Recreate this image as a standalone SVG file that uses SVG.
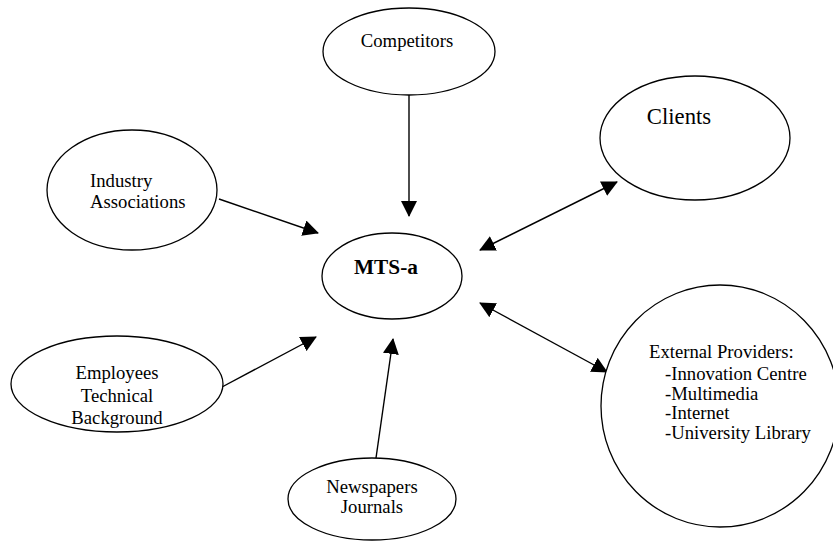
<svg xmlns="http://www.w3.org/2000/svg" width="833" height="545" viewBox="0 0 833 545">
<style>
.n{fill:#fff;stroke:#000;stroke-width:1.3}
.t{font-family:"Liberation Serif","Times New Roman",serif;font-size:18.7px;fill:#000}
.c{text-anchor:middle}
.e{stroke:#000;stroke-width:1.4;fill:none}
</style>
<defs>
<marker id="ah" viewBox="0 0 16 16" refX="15" refY="8" markerWidth="16" markerHeight="16" markerUnits="userSpaceOnUse" orient="auto-start-reverse">
<path d="M0,0 L16,8 L0,16 z" fill="#000"/>
</marker>
</defs>
<rect width="833" height="545" fill="#fff"/>
<g id="edges">
<line class="e" x1="409" y1="95" x2="409" y2="216" marker-end="url(#ah)"/>
<line class="e" x1="219" y1="199" x2="318" y2="233" marker-end="url(#ah)"/>
<line class="e" x1="222" y1="387" x2="316" y2="337" marker-end="url(#ah)"/>
<line class="e" x1="376" y1="458" x2="393" y2="339" marker-end="url(#ah)"/>
<line class="e" x1="480" y1="250" x2="617" y2="182" marker-start="url(#ah)" marker-end="url(#ah)"/>
<line class="e" x1="480" y1="303" x2="607" y2="372" marker-start="url(#ah)" marker-end="url(#ah)"/>
</g>
<g id="competitors">
<ellipse class="n" cx="409" cy="51.5" rx="86" ry="43.5"/>
<text class="t c" x="407" y="47">Competitors</text>
</g>
<g id="clients">
<ellipse class="n" cx="695" cy="138" rx="95" ry="62"/>
<text class="t c" x="679" y="124" style="font-size:22.7px">Clients</text>
</g>
<g id="industry">
<ellipse class="n" cx="132" cy="190" rx="85" ry="60"/>
<text class="t" x="90" y="187">Industry</text>
<text class="t" x="90" y="208">Associations</text>
</g>
<g id="mtsa">
<ellipse class="n" cx="392" cy="276" rx="70" ry="43"/>
<text class="t" x="354" y="274" style="font-size:21.3px;font-weight:bold">MTS-a</text>
</g>
<g id="employees">
<ellipse class="n" cx="117" cy="384" rx="106" ry="48"/>
<text class="t c" x="117" y="379">Employees</text>
<text class="t c" x="117" y="401.5">Technical</text>
<text class="t c" x="117" y="424">Background</text>
</g>
<g id="newspapers">
<ellipse class="n" cx="372" cy="499" rx="84" ry="41"/>
<text class="t c" x="372" y="493">Newspapers</text>
<text class="t c" x="372" y="513">Journals</text>
</g>
<g id="external">
<ellipse class="n" cx="720" cy="406" rx="119" ry="121"/>
<text class="t" x="649" y="358">External Providers:</text>
<text class="t" x="665" y="380">-Innovation Centre</text>
<text class="t" x="665" y="399.5">-Multimedia</text>
<text class="t" x="665" y="419">-Internet</text>
<text class="t" x="665" y="439">-University Library</text>
</g>
</svg>
